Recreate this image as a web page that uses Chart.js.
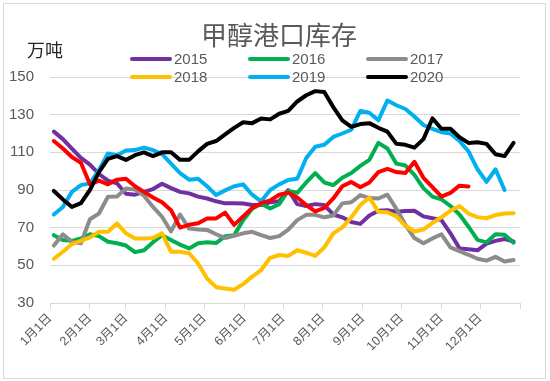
<!DOCTYPE html>
<html>
<head>
<meta charset="utf-8">
<script src="https://cdn.jsdelivr.net/npm/chart.js@4/dist/chart.umd.min.js"></script>
<style>
  html, body { margin: 0; padding: 0; background: #fff; }
  #wrap { width: 550px; height: 381px; }
</style>
</head>
<body>
<div id="wrap"><canvas id="chart" width="550" height="381"></canvas></div>
<script>
// 周度数据，横轴按一年中的第几天
const WEEK_DAYS = [3, 10, 17, 24, 31, 38, 45, 52, 59, 66, 73, 80, 87, 94, 101, 108, 115, 122, 129, 136,
  143, 150, 157, 164, 171, 178, 185, 192, 199, 206, 213, 220, 227, 234, 241, 248, 255, 262, 269, 276,
  283, 290, 297, 304, 311, 318, 325, 332, 339, 346, 353, 360];

const MONTH_DAYS = [0, 31, 59, 90, 120, 151, 181, 212, 243, 273, 304, 334, 365];
const MONTH_LABELS = ['1月1日', '2月1日', '3月1日', '4月1日', '5月1日', '6月1日',
  '7月1日', '8月1日', '9月1日', '10月1日', '11月1日', '12月1日'];

const Y_TICKS = [30, 50, 70, 90, 110, 130, 150];

const LEGEND_LABELS = ['2015', '2016', '2017', '2018', '2019', '2020'];

const S2015 = [121, 117, 112, 107, 103.5, 98.5, 95, 93.6, 88, 87.5, 89, 90.5, 93.3, 91, 89, 88.2, 86.5, 85.5, 84, 82.9,
  82.9, 82.8, 82, 82, 83.5, 84, 90, 82.5, 81.5, 82.5, 82, 77, 75.5, 73, 72, 76.5, 79, 79.3, 78.5, 78.8,
  79, 76, 75, 74, 67, 59, 58.5, 58, 61.5, 63, 64, 62.7];
const S2016 = [66, 63.5, 63, 64.3, 66.5, 65.5, 62.5, 61.7, 60.5, 57, 58, 62.3, 66, 63.5, 61, 59, 61.7, 62.3, 61.8, 65.5,
  66, 74, 80, 82.7, 80.2, 82.5, 89.5, 88.5, 94, 99, 94, 92.6, 96.5, 99, 102.8, 106, 115, 112, 104, 103,
  98, 91, 86.5, 85, 81.5, 77, 70.5, 63.5, 62.2, 66.5, 66.2, 62];
const S2017 = [60.5, 66.5, 62.5, 61.7, 74.5, 77.5, 86.4, 86.5, 90.8, 90.2, 87, 81, 75.8, 68, 77, 69.5, 69, 68.8, 66.5, 64.5,
  65.7, 67, 67.8, 66, 64.5, 65.5, 69, 74, 76.8, 76.8, 75.5, 76.5, 82.9, 83.5, 87.3, 85.7, 85.5, 87.5, 80, 71.5,
  64.5, 61.7, 64.3, 66.5, 59.5, 57.5, 55.6, 53.5, 52.5, 54.5, 52, 52.8];
const S2018 = [53.5, 57.2, 61.3, 63, 64.8, 67.8, 67.8, 72.3, 67, 64.3, 64.3, 64.5, 67, 57.2, 57.2, 56.4, 51, 43, 38.4, 37.7,
  37, 40, 44, 47.5, 54, 55.5, 55, 58, 56.7, 55, 59.5, 67, 70.2, 75.5, 82, 86, 78.4, 78.2, 76, 71,
  68, 69, 72.5, 75.5, 79, 81.5, 77.5, 75.6, 75, 76.7, 77.5, 77.6];
const S2019 = [77, 81, 89, 92.6, 93.5, 100.5, 109.4, 108.5, 111, 111.2, 112.5, 111.2, 109, 104, 99, 95.5, 96, 92, 87.3, 89.8,
  92, 93, 87.5, 84, 90, 93, 95.3, 96, 107, 113, 114, 118.2, 120, 122, 132, 131, 127, 137.5, 135, 133,
  129, 124.5, 122.5, 120.7, 120, 116, 110.5, 101, 94.3, 101, 90];
const S2020 = [89.5, 85, 81, 83, 90, 99.5, 106.5, 108, 106, 108.5, 110, 108, 110, 110, 106, 106, 110.5, 114.5, 116, 119.5,
  123, 126, 125.5, 128, 127.5, 130.5, 132, 137, 140.3, 142.5, 142, 134, 127, 123.5, 125, 125.5, 123, 121, 114.5, 114,
  112.5, 117, 128, 122.5, 122.5, 118, 115, 115.4, 114.5, 109, 108, 115];
// 红色系列（图例中未标注）
const S_RED = [116, 112, 107.5, 104.5, 93, 95, 93, 95.5, 96, 92, 89, 86, 83.5, 79.3, 70, 71.5, 72.3, 74.9, 74.9, 78,
  71.5, 76, 80.5, 83, 84.5, 87.5, 88.6, 86, 82, 78.6, 80.5, 85.5, 92, 94.3, 91.5, 94, 99.5, 101.2, 99.5, 99,
  105, 96.5, 91.5, 86.5, 88.5, 92.3, 91.8];

const COLORS = ['#7030A0', '#00B050', '#8C8C8C', '#FFC000', '#00B0F0', '#000000'];
const RED = '#FF0000';

function toPoints(values) {
  return values.map((v, i) => ({ x: WEEK_DAYS[i], y: v }));
}

function makeSet(label, values, color, order) {
  return {
    label: label,
    data: toPoints(values),
    borderColor: color,
    backgroundColor: color,
    borderWidth: 4,
    pointRadius: 0,
    tension: 0,
    borderJoinStyle: 'round',
    borderCapStyle: 'round',
    fill: false,
    order: order
  };
}

const datasets = [
  makeSet(LEGEND_LABELS[0], S2015, COLORS[0], 6),
  makeSet(LEGEND_LABELS[1], S2016, COLORS[1], 5),
  makeSet(LEGEND_LABELS[2], S2017, COLORS[2], 4),
  makeSet(LEGEND_LABELS[3], S2018, COLORS[3], 3),
  makeSet(LEGEND_LABELS[4], S2019, COLORS[4], 2),
  makeSet(LEGEND_LABELS[5], S2020, COLORS[5], 0),
  makeSet('', S_RED, RED, 1)
];

// 背景边框、标题、单位和图例
const decorPlugin = {
  id: 'decor',
  beforeDraw(chart) {
    const ctx = chart.ctx;
    ctx.save();
    ctx.fillStyle = '#ffffff';
    ctx.fillRect(0, 0, chart.width, chart.height);
    ctx.strokeStyle = '#d9d9d9';
    ctx.lineWidth = 1;
    ctx.strokeRect(3.5, 3.5, 542, 375);
    ctx.restore();
  },
  afterDraw(chart) {
    const ctx = chart.ctx;
    ctx.save();
    ctx.fillStyle = '#595959';
    ctx.font = '26px "Noto Sans CJK SC"';
    ctx.textAlign = 'center';
    ctx.textBaseline = 'middle';
    ctx.fillText('甲醇港口库存', 279, 35);

    ctx.fillStyle = '#262626';
    ctx.font = '18px "Noto Sans CJK SC"';
    ctx.textAlign = 'left';
    ctx.fillText('万吨', 27, 50);

    const colX = [130, 248, 366];
    const rowY = [59, 77];
    ctx.font = '15px "Liberation Sans"';
    ctx.lineCap = 'round';
    LEGEND_LABELS.forEach((lab, i) => {
      const x = colX[i % 3];
      const y = rowY[Math.floor(i / 3)];
      ctx.strokeStyle = COLORS[i];
      ctx.lineWidth = 4;
      ctx.beginPath();
      ctx.moveTo(x + 2, y);
      ctx.lineTo(x + 40, y);
      ctx.stroke();
      ctx.fillStyle = '#595959';
      ctx.fillText(lab, x + 44, y + 1);
    });
    ctx.restore();
  }
};

new Chart(document.getElementById('chart'), {
  type: 'line',
  data: { datasets: datasets },
  plugins: [decorPlugin],
  options: {
    responsive: false,
    animation: false,
    devicePixelRatio: 1,
    layout: { padding: { left: 0, right: 30, top: 77, bottom: 0 } },
    plugins: {
      legend: { display: false },
      title: { display: false },
      tooltip: { enabled: false }
    },
    scales: {
      x: {
        type: 'linear',
        min: 0,
        max: 365,
        afterBuildTicks: (scale) => {
          scale.ticks = MONTH_DAYS.map(v => ({ value: v }));
        },
        afterFit: (scale) => { scale.height = 78; },
        grid: { drawOnChartArea: false, drawTicks: true, tickLength: 6, color: '#d9d9d9' },
        border: { color: '#d9d9d9' },
        ticks: {
          autoSkip: false,
          minRotation: 45,
          maxRotation: 45,
          padding: 2,
          color: '#595959',
          font: { family: '"Liberation Sans", "Noto Sans CJK SC"', size: 12.5 },
          callback: (value, index) => MONTH_LABELS[index] || ''
        }
      },
      y: {
        min: 30,
        max: 150,
        afterBuildTicks: (scale) => {
          scale.ticks = Y_TICKS.map(v => ({ value: v }));
        },
        afterFit: (scale) => { scale.width = 50; },
        grid: { color: '#d9d9d9', drawTicks: false },
        border: { display: false },
        ticks: {
          padding: 16,
          color: '#595959',
          font: { family: '"Liberation Sans"', size: 15 }
        }
      }
    }
  }
});
</script>
</body>
</html>
